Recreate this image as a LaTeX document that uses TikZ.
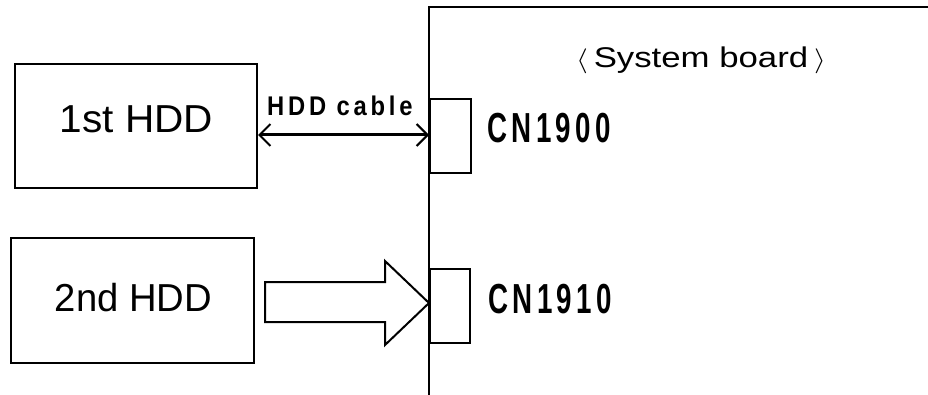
\documentclass[tikz,border=0pt]{standalone}
\usepackage{fontspec}
\setmainfont{Liberation Sans}
\usetikzlibrary{arrows.meta}
\newcommand{\sx}[2]{\scalebox{#1}[1]{#2}}
\tikzset{
  box/.style={draw, line width=2pt, minimum width=#1, inner sep=0pt},
  lbl/.style={anchor=base, inner sep=0pt},
  big/.style={font=\fontsize{39}{40}\selectfont},
  cnfont/.style={font=\fontsize{42}{43}\selectfont\bfseries},
  wire/.style={line width=2pt},
}
\begin{document}
\begin{tikzpicture}[x=1pt,y=-1pt]
\useasboundingbox (0,0) rectangle (928,395);
% system board
\coordinate (bb) at (429,395);
\coordinate (bt) at (429,7.5);
\coordinate (br) at (928,7.5);
\draw[wire] (bb) -- (bt) -- (br);
\node[lbl, font=\fontsize{28.5}{29}\selectfont] (sb) at (701,68) {\sx{1.22}{$\langle$\,System board\,$\rangle$}};
% HDD boxes
\node[box=242pt, minimum height=124pt] (hdd1) at (136,126) {};
\node[box=243pt, minimum height=125pt] (hdd2) at (132.5,300.5) {};
\node[lbl, big] (t1) at (136.5,133) {\sx{1.04}{1st HDD}};
\node[lbl, big] (t2) at (133.5,311) {\sx{0.98}{2nd HDD}};
% connectors
\node[box=41pt, minimum height=74pt, anchor=north west] (cn1) at (429,98) {};
\node[box=40pt, minimum height=74pt, anchor=north west] (cn2) at (429,268) {};
\node[lbl, cnfont, anchor=base west] (c1) at (487,143) {\sx{0.66}{\addfontfeature{LetterSpace=16}CN1900}};
\node[lbl, cnfont, anchor=base west] (c2) at (488,313) {\sx{0.66}{\addfontfeature{LetterSpace=16}CN1910}};
% HDD cable
\coordinate (ay) at (0,135);
\draw[line width=3pt, {Straight Barb[length=11pt,width=22pt,line width=2pt]}-{Straight Barb[length=11pt,width=22pt,line width=2pt]}] (hdd1.east |- ay) -- (bt |- ay);
\node[lbl, font=\fontsize{27}{28}\selectfont\bfseries, anchor=base west] (hc) at (267,115.5) {\sx{0.88}{\addfontfeature{LetterSpace=16}HDD cable}};
% block arrow
\draw[wire, line join=miter] (265,282) -- (385,282) -- (385,261) -- (bt |- 0,303) -- (385,345) -- (385,322) -- (265,322) -- cycle;
\end{tikzpicture}
\end{document}
